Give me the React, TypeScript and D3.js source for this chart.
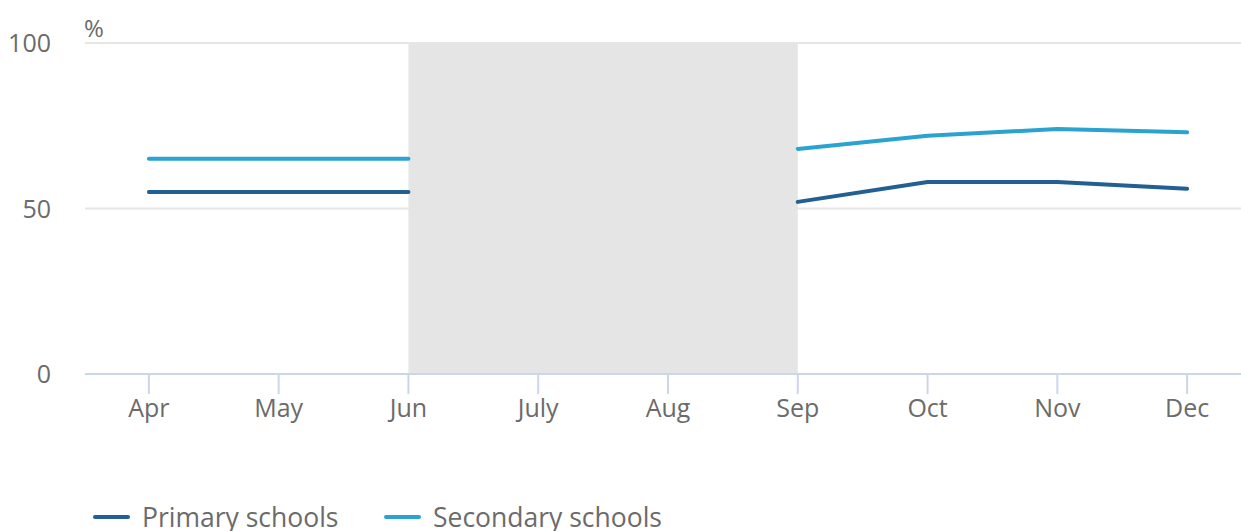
import React, { useEffect, useRef } from 'react'
import * as d3 from 'd3'

const months = ['Apr', 'May', 'Jun', 'July', 'Aug', 'Sep', 'Oct', 'Nov', 'Dec']
const primary: (number | null)[] = [55, 55, 55, null, null, 52, 58, 58, 56]
const secondary: (number | null)[] = [65, 65, 65, null, null, 68, 72, 74, 73]
const yTicks = [0, 50, 100]
const shadeFrom = 'Jun'
const shadeTo = 'Sep'
const seriesNames = ['Primary schools', 'Secondary schools']
const colors = ['#225f92', '#2ba3d1']

const App = () => {
  const ref = useRef<SVGSVGElement>(null)

  useEffect(() => {
    const width = 1241
    const font = '"Open Sans", sans-serif'
    const textColor = '#6b6b6b'
    const svg = d3.select(ref.current)
    svg.selectAll('*').remove()

    const x = d3.scalePoint<string>().domain(months).range([84, 1252]).padding(0.5)
    const y = d3.scaleLinear().domain([0, 100]).range([374, 43])

    // shaded summer break
    svg.append('rect')
      .attr('x', x(shadeFrom)!)
      .attr('y', y(100))
      .attr('width', x(shadeTo)! - x(shadeFrom)!)
      .attr('height', y(0) - y(100))
      .attr('fill', '#e5e5e5')

    // grid
    svg.append('g').selectAll('line')
      .data(yTicks.filter(d => d > 0))
      .enter().append('line')
      .attr('x1', 85).attr('x2', width)
      .attr('y1', d => y(d)).attr('y2', d => y(d))
      .attr('stroke', '#e6e6e6').attr('stroke-width', 2)

    svg.append('g').selectAll('text')
      .data(yTicks)
      .enter().append('text')
      .attr('x', 51).attr('y', d => y(d) + 9)
      .attr('text-anchor', 'end')
      .attr('font-family', font).attr('font-size', 25)
      .attr('fill', textColor)
      .text(d => d)

    svg.append('text')
      .attr('x', 84).attr('y', 37)
      .attr('font-family', font).attr('font-size', 24)
      .attr('fill', textColor)
      .text('%')

    // x axis
    svg.append('line')
      .attr('x1', 85).attr('x2', width)
      .attr('y1', y(0)).attr('y2', y(0))
      .attr('stroke', '#ccd6eb').attr('stroke-width', 2)

    const xt = svg.append('g').selectAll('g').data(months).enter().append('g')
    xt.append('line')
      .attr('x1', d => x(d)!).attr('x2', d => x(d)!)
      .attr('y1', y(0)).attr('y2', y(0) + 20)
      .attr('stroke', '#ccd6eb').attr('stroke-width', 2)
    xt.append('text')
      .attr('x', d => x(d)!).attr('y', 417)
      .attr('text-anchor', 'middle')
      .attr('font-family', font).attr('font-size', 25)
      .attr('fill', textColor)
      .text(d => d)

    const line = d3.line<number | null>()
      .defined(d => d !== null)
      .x((_, i) => x(months[i])!)
      .y(d => y(d as number))

    ;[primary, secondary].forEach((s, i) => {
      svg.append('path')
        .datum(s)
        .attr('d', line)
        .attr('fill', 'none')
        .attr('stroke', colors[i])
        .attr('stroke-width', 4)
        .attr('stroke-linecap', 'round')
        .attr('stroke-linejoin', 'round')
    })

    // legend
    const lx = [95, 386]
    seriesNames.forEach((name, i) => {
      svg.append('line')
        .attr('x1', lx[i]).attr('x2', lx[i] + 33)
        .attr('y1', 517).attr('y2', 517)
        .attr('stroke', colors[i]).attr('stroke-width', 4)
        .attr('stroke-linecap', 'round')
      svg.append('text')
        .attr('x', lx[i] + 47).attr('y', 527)
        .attr('font-family', font).attr('font-size', 26.5)
        .attr('fill', textColor)
        .text(name)
    })
  }, [])

  return (
    <svg ref={ref} width={1241} height={531}
      style={{ position: 'absolute', left: 0, top: 0, background: '#fff' }} />
  )
}

export default App
